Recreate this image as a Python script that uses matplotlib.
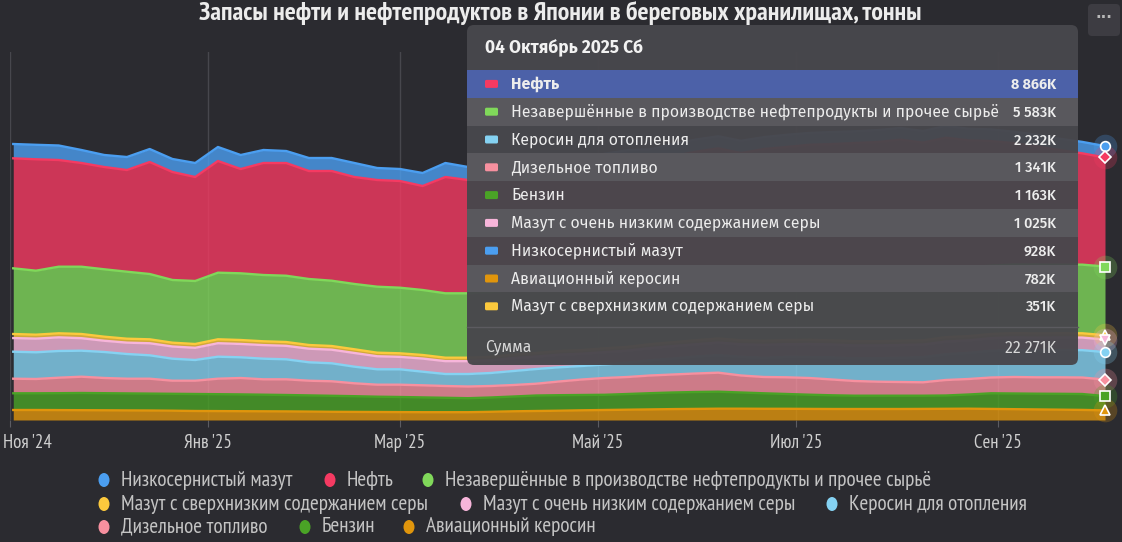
import numpy as np
import pandas as pd
import matplotlib
matplotlib.use('Agg')
import matplotlib.pyplot as plt
from matplotlib.patches import FancyBboxPatch, Rectangle, Ellipse
import matplotlib.transforms as mtransforms

# ---------------- data (thousand tonnes, weekly, Saturdays) ----------------
dates = pd.date_range('2024-11-02', periods=49, freq='7D')

lsfo = [1163, 1179, 1179, 1057, 976, 1057, 1057, 1057, 1138, 1138,
        1138, 1057, 976, 1057, 1057, 1138, 976, 976, 1057, 1138,
        1057, 1050, 1040, 1060, 1030, 1020, 1040, 1010, 1000, 1020,
        990, 980, 1000, 970, 990, 960, 980, 950, 970, 950,
        940, 960, 940, 950, 930, 940, 920, 930, 928]
crude = [8943, 9057, 8675, 8431, 8317, 8268, 9106, 8780, 8455, 9081,
         8480, 9106, 9163, 8780, 8919, 8699, 8675, 8675, 8455, 9455,
         9211, 9150, 9020, 9260, 9310, 9190, 9440, 9590, 9430, 9720,
         9880, 9990, 9770, 10090, 10180, 10370, 10420, 10560, 10650, 10780,
         10530, 10640, 10330, 10120, 9860, 9610, 9320, 9050, 8866]
unfinished = [5341, 5203, 5415, 5471, 5480, 5447, 5309, 5098, 5122, 5415,
              5423, 5390, 5390, 5366, 5309, 5309, 5366, 5333, 5285, 5236,
              5236, 5262, 5290, 5274, 5318, 5351, 5337, 5392, 5410, 5388,
              5446, 5471, 5452, 5498, 5516, 5489, 5537, 5552, 5541, 5568,
              5549, 5573, 5590, 5561, 5578, 5596, 5572, 5581, 5583]
ulsfo = [330, 320, 330, 340, 330, 320, 320, 310, 310, 320,
         320, 310, 310, 300, 300, 300, 290, 290, 290, 280,
         280, 280, 290, 290, 300, 300, 310, 310, 320, 320,
         330, 330, 330, 340, 340, 340, 340, 350, 350, 350,
         345, 355, 350, 340, 350, 355, 345, 350, 351]
vlsfo = [1109, 1111, 1109, 1018, 914, 924, 981, 991, 991, 1095,
         1086, 1105, 1096, 1106, 1106, 1115, 1060, 1011, 1068, 1045,
         1045, 1035, 1048, 1012, 1026, 995, 1004, 978, 992, 1015,
         1003, 1031, 1022, 1047, 1039, 1064, 1052, 1058, 1036, 1045,
         1027, 1038, 1016, 1029, 1034, 1018, 1026, 1021, 1025]
kerosene = [2195, 2171, 2171, 2114, 2114, 2008, 1902, 1789, 1683, 1789,
            1683, 1675, 1626, 1496, 1463, 1350, 1252, 1252, 1106, 976,
            1016, 1057, 1138, 1195, 1154, 1098, 1098, 1160, 1235, 1290,
            1370, 1420, 1510, 1560, 1650, 1700, 1790, 1830, 1910, 1960,
            2040, 2090, 2120, 2170, 2190, 2200, 2215, 2225, 2232]
diesel = [1187, 1163, 1260, 1325, 1236, 1195, 1211, 1065, 1081, 1260,
          1333, 1252, 1276, 1195, 1179, 1049, 976, 1000, 984, 959,
          951, 935, 935, 959, 1114, 1260, 1366, 1382, 1439, 1463,
          1504, 1545, 1382, 1325, 1358, 1358, 1285, 1195, 1138, 1114,
          1089, 1260, 1260, 1285, 1341, 1333, 1341, 1341, 1341]
gasoline = [1358, 1358, 1374, 1398, 1390, 1382, 1374, 1374, 1382, 1374,
            1366, 1350, 1333, 1317, 1301, 1276, 1244, 1228, 1203, 1171,
            1138, 1163, 1203, 1260, 1260, 1244, 1236, 1276, 1317, 1350,
            1374, 1382, 1317, 1260, 1203, 1154, 1114, 1081, 1081, 1081,
            1073, 1081, 1154, 1271, 1275, 1278, 1290, 1293, 1163]
aviation = [813, 813, 805, 797, 789, 780, 772, 756, 732, 724,
            715, 707, 699, 683, 667, 659, 650, 642, 634, 634,
            634, 667, 707, 732, 756, 789, 813, 837, 862, 886,
            902, 919, 919, 911, 911, 902, 894, 894, 894, 894,
            902, 911, 919, 900, 880, 860, 840, 820, 782]

# legend / series order (first = top of stack)
names = ['Низкосернистый мазут', 'Нефть',
         'Незавершённые в производстве нефтепродукты и прочее сырьё',
         'Мазут с сверхнизким содержанием серы',
         'Мазут с очень низким содержанием серы',
         'Керосин для отопления', 'Дизельное топливо', 'Бензин',
         'Авиационный керосин']
values = [lsfo, crude, unfinished, ulsfo, vlsfo, kerosene, diesel, gasoline, aviation]
colors = ['#4b9ef0', '#f53a62', '#80d85a', '#fcc93d', '#f7b5da',
          '#85d2f2', '#f7909f', '#4aa326', '#e0950c']
markers = ['o', 'D', 's', '^', 'v', 'o', 'D', 's', '^']

tick_dates = pd.to_datetime(['2024-11-01', '2025-01-01', '2025-03-01',
                             '2025-05-01', '2025-07-01', '2025-09-01'])
tick_labels = ["Ноя '24", "Янв '25", "Мар '25", "Май '25", "Июл '25", "Сен '25"]

title = 'Запасы нефти и нефтепродуктов в Японии в береговых хранилищах, тонны'
tooltip_date = '04 Октябрь 2025 Сб'
tooltip_order = [1, 2, 5, 6, 7, 4, 0, 8, 3]   # sorted by value at last point

# ---------------- figure ----------------
W, H = 1122, 542
BG = '#2b2b30'
NARROW = ['PT Sans Narrow', 'Roboto Condensed', 'DejaVu Sans']
TIPF = ['Fira Sans', 'PT Sans', 'DejaVu Sans']

fig = plt.figure(figsize=(W / 100, H / 100), dpi=100, facecolor=BG)
renderer = fig.canvas.get_renderer()


def fit_width(t, target):
    """scale a text's font size so that its rendered width matches target px"""
    for _ in range(2):
        w = t.get_window_extent(renderer).width
        if w > 0:
            t.set_fontsize(t.get_fontsize() * target / w)
    return t.get_fontsize()


def fx(x):
    return x / W


def fy(y):
    return 1 - y / H


ax = fig.add_axes([fx(10), fy(420), fx(1105) - fx(10), fy(52) - fy(420)])
ax.set_facecolor(BG)
ax.set_xlim(pd.Timestamp('2024-11-01'), pd.Timestamp('2025-10-04'))
ax.set_ylim(0, 29920)
for s in ax.spines.values():
    s.set_visible(False)
ax.set_yticks([])
ax.set_xticks(tick_dates)
ax.tick_params(axis='x', length=5, width=0.8, color='#5c5c62', pad=5)
ax.grid(axis='x', color='#47474d', lw=1.0, zorder=0)
ax.set_axisbelow(True)

# stacking: bottom = last series
arr = np.array(values, dtype=float)
n = len(values)
tops = {}
base = np.zeros(arr.shape[1])
for i in range(n - 1, -1, -1):
    top = base + arr[i]
    tops[i] = (base.copy(), top.copy())
    base = top

for i in range(n):
    lo, hi = tops[i]
    z = 2 + i * 0.1
    ax.fill_between(dates, lo, hi, color=colors[i], alpha=0.8, lw=0, zorder=z)
    ax.plot(dates, hi, color=colors[i], lw=1.7, zorder=z + 0.05, solid_joinstyle='round')

# hover markers at last point
for i in range(n):
    lo, hi = tops[i]
    ax.plot([dates[-1]], [hi[-1]], marker='o', ms=17, color=colors[i], alpha=0.25,
            mec='none', zorder=5, clip_on=False)
for i in range(n):
    lo, hi = tops[i]
    ax.plot([dates[-1]], [hi[-1]], marker=markers[i], ms=7 if markers[i] != 'D' else 6,
            color=colors[i], mec='white', mew=1.2, zorder=6 + i * 0.01, clip_on=False)

# x tick labels
ax.set_xticklabels(tick_labels, family=NARROW, fontsize=11, color='#cfcfcf')
tl = ax.get_xticklabels()
fs_tick = fit_width(tl[1], 48)
for t in tl:
    t.set_fontsize(fs_tick)
tl[0].set_transform(tl[0].get_transform() + mtransforms.ScaledTranslation(17 / 100, 0, fig.dpi_scale_trans))

# ---------------- overlay (title, tooltip, legend, menu) ----------------
ov = fig.add_axes([0, 0, 1, 1])
ov.set_xlim(0, W)
ov.set_ylim(H, 0)
ov.axis('off')
ov.set_zorder(10)
ov.patch.set_visible(False)

tt = ov.text(560, 13, title, ha='center', va='center', fontsize=15, fontweight='bold',
             color='#ececec', family=NARROW)
fit_width(tt, 725)

# menu button
ov.add_patch(FancyBboxPatch((1088, 4), 32, 32, boxstyle='round,pad=0,rounding_size=4',
                            fc='#3d3c42', ec='none'))
ov.text(1104, 18, '···', ha='center', va='center', fontsize=11, color='#b8b8b8',
        family=['DejaVu Sans'], fontweight='bold')

# tooltip
tx0, ty0, tw, th = 467, 25, 611, 340
ov.add_patch(FancyBboxPatch((tx0, ty0), tw, th, boxstyle='round,pad=0,rounding_size=7',
                            fc='#48474c', ec='none', alpha=0.97))
hd = ov.text(485, 48, tooltip_date, ha='left', va='center', fontsize=11, fontweight='bold',
             color='#f2f2f2', family=TIPF)
fit_width(hd, 158)
row_h = 27.8
row_y0 = 70
label_texts = []
for r, si in enumerate(tooltip_order):
    y = row_y0 + r * row_h
    if r == 0:
        fc = '#4c61a8'
    elif r % 2 == 1:
        fc = '#59585d'
    else:
        fc = None
    if fc:
        ov.add_patch(Rectangle((tx0, y), tw, row_h, fc=fc, ec='none'))
    yc = y + row_h / 2
    ov.add_patch(FancyBboxPatch((485, yc - 4), 13, 8, boxstyle='round,pad=0,rounding_size=1.5',
                                fc=colors[si], ec='none'))
    v = values[si][-1]
    vs = f'{v:,}'.replace(',', ' ') + 'K'
    lt = ov.text(511, yc, names[si], ha='left', va='center', fontsize=10.8,
                 fontweight='bold' if r == 0 else 'normal', color='#ededed', family=TIPF)
    label_texts.append(lt)
    ov.text(1056, yc + 1, vs, ha='right', va='center', fontsize=10.4,
            fontweight='bold' if r == 0 else 'medium', color='#ededed', family=TIPF)
fs_tip = fit_width(label_texts[1], 487)
for lt in label_texts:
    lt.set_fontsize(fs_tip)
ov.plot([tx0, tx0 + tw], [327, 327], color='#5c5b60', lw=1)
total = int(sum(v[-1] for v in values))
ov.text(485, 347, 'Сумма', ha='left', va='center', fontsize=fs_tip, color='#d8d8d8', family=TIPF)
ov.text(1056, 348, f'{total:,}'.replace(',', ' ') + 'K', ha='right', va='center',
        fontsize=fs_tip, color='#d8d8d8', family=TIPF)

# legend
legend_pos = [(104, 480), (330, 480), (428, 480),
              (104, 504), (466, 504), (832, 504),
              (104, 527), (305, 527), (409, 527)]
leg_texts = []
for i, (lx, ly) in enumerate(legend_pos):
    ov.add_patch(Ellipse((lx, ly), 11, 14, fc=colors[i], ec='none'))
    leg_texts.append(ov.text(lx + 17, ly, names[i], ha='left', va='center', fontsize=12,
                             color='#c4c4c4', family=NARROW))
fs_leg = fit_width(leg_texts[2], 487)
for t in leg_texts:
    t.set_fontsize(fs_leg)

fig.savefig('out.png', dpi=100, facecolor=BG)
